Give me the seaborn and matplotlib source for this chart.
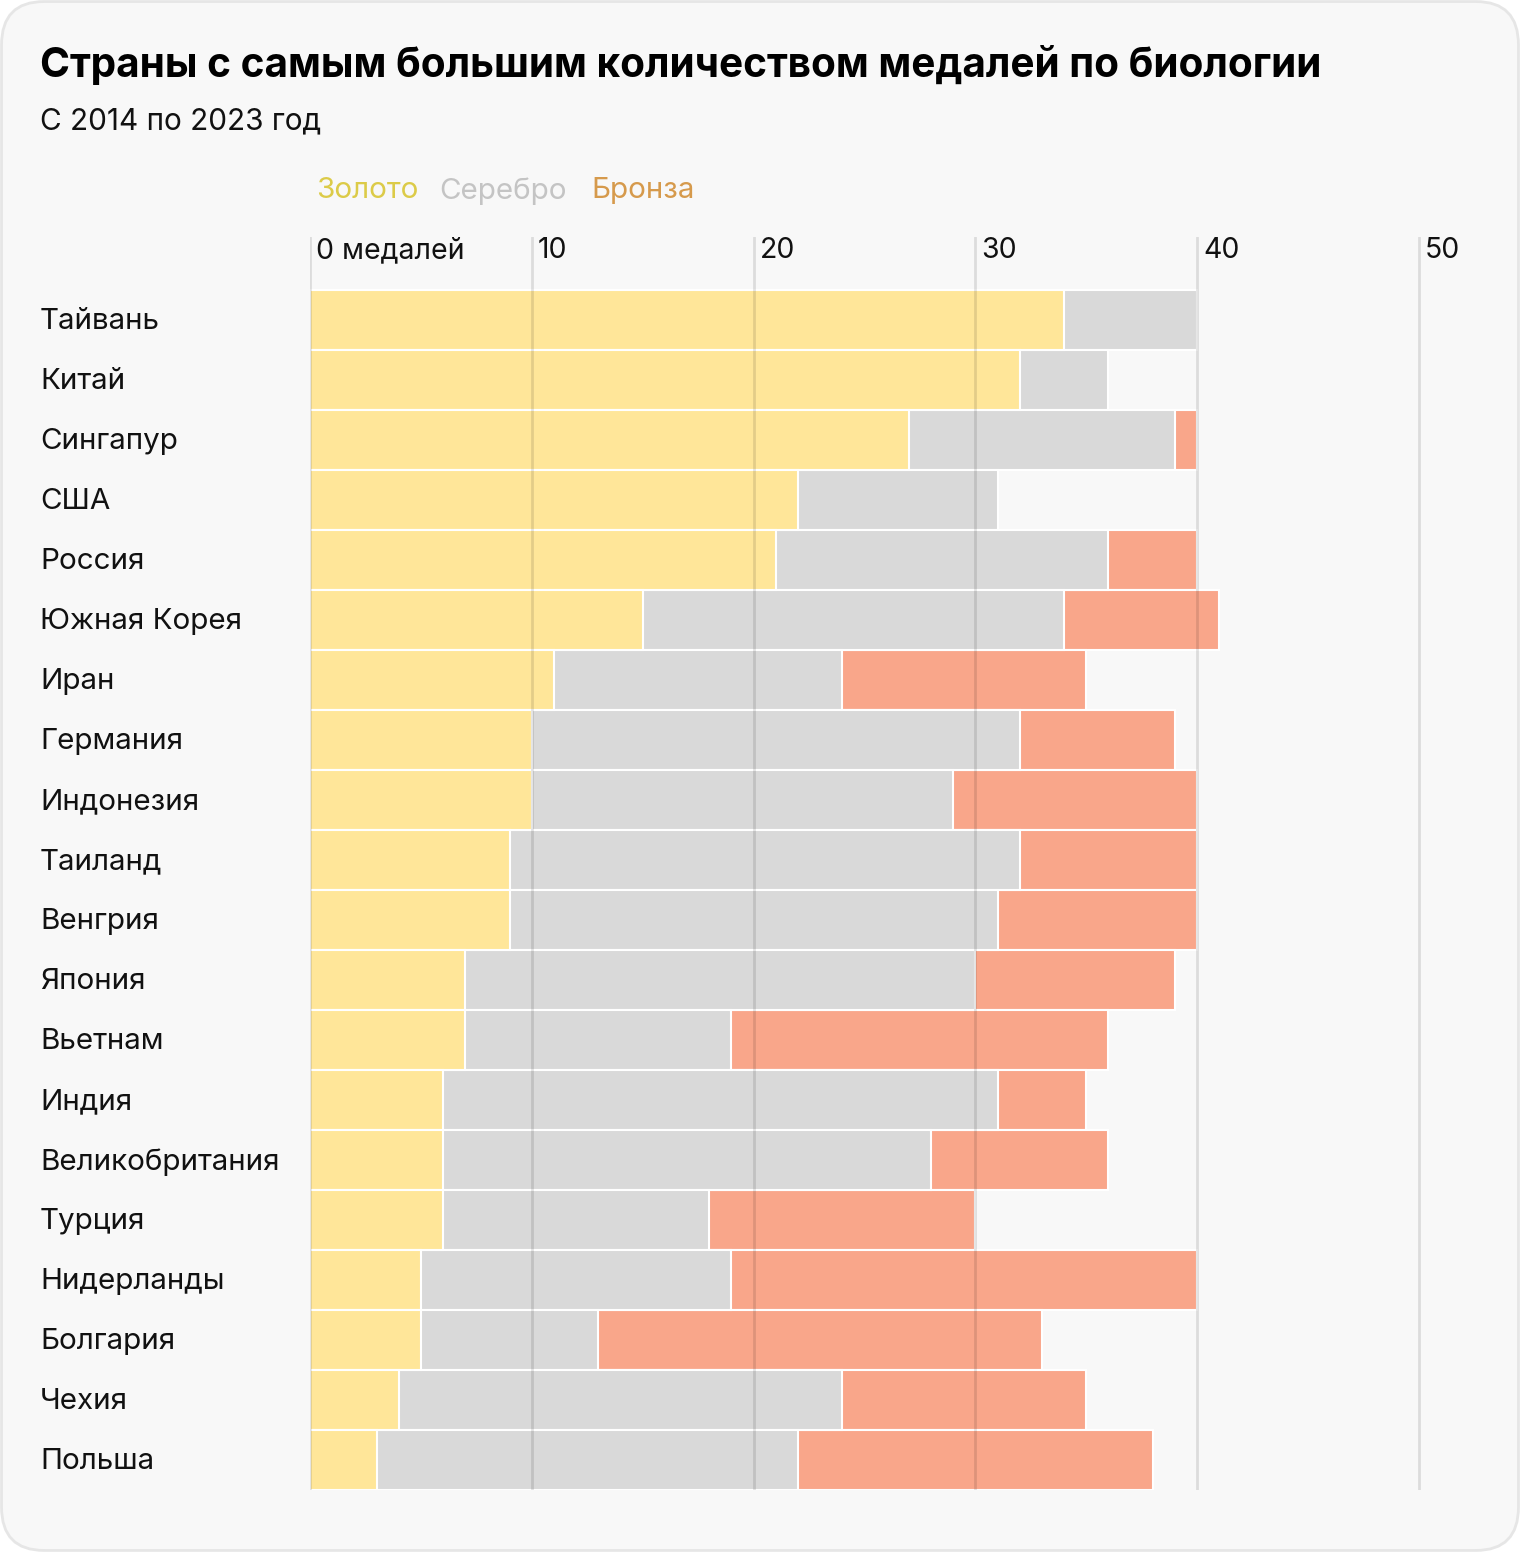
import matplotlib
matplotlib.use("Agg")
import matplotlib.pyplot as plt
import matplotlib.transforms as mtransforms
from matplotlib.patches import FancyBboxPatch
import seaborn as sns
import pandas as pd

countries = ["Тайвань", "Китай", "Сингапур", "США", "Россия", "Южная Корея", "Иран",
             "Германия", "Индонезия", "Таиланд", "Венгрия", "Япония", "Вьетнам", "Индия",
             "Великобритания", "Турция", "Нидерланды", "Болгария", "Чехия", "Польша"]
gold = [34, 32, 27, 22, 21, 15, 11, 10, 10, 9, 9, 7, 7, 6, 6, 6, 5, 5, 4, 3]
silver = [6, 4, 12, 9, 15, 19, 13, 22, 19, 23, 22, 23, 12, 25, 22, 12, 14, 8, 20, 19]
bronze = [0, 0, 1, 0, 4, 7, 11, 7, 11, 8, 9, 9, 17, 4, 8, 12, 21, 20, 11, 16]
ticks = [0, 10, 20, 30, 40, 50]
tick_labels = ["0 медалей", "10", "20", "30", "40", "50"]

GOLD, SILVER, BRONZE = "#ffe699", "#d9d9d9", "#f9a68a"

df = pd.DataFrame({"country": countries, "gold": gold, "silver": silver, "bronze": bronze})
df["gs"] = df["gold"] + df["silver"]
df["total"] = df["gs"] + df["bronze"]

sns.set_style("white")
plt.rcParams["font.family"] = ["Inter", "DejaVu Sans"]

fig = plt.figure(figsize=(15.2, 15.52), dpi=100, facecolor="white")
fig.patches.append(FancyBboxPatch((0.001, 0.001), 0.998, 0.998, boxstyle="round,pad=0,rounding_size=0.028",
                                  transform=fig.transFigure, facecolor="#f8f8f8", edgecolor="#e6e6e6",
                                  linewidth=2, zorder=-10))

W, H = 1520, 1552
ax = fig.add_axes([310 / W, 1 - 1490 / H, (52 * 22.18) / W, (1490 - 237) / H])
ax.set_facecolor("none")

# stacked bars: draw cumulative totals back to front
for col, color in [("total", BRONZE), ("gs", SILVER), ("gold", GOLD)]:
    sns.barplot(data=df, x=col, y="country", orient="h", color=color, width=1.0,
                edgecolor="white", linewidth=1.5, saturation=1, ax=ax)

ax.set_xlim(0, 52)
ax.set_ylim(19.5, -0.5 - 53 / 60)
for t in ticks:
    ax.axvline(t, color="black", alpha=0.11, lw=2, zorder=5)
for sp in ax.spines.values():
    sp.set_visible(False)
ax.set_xticks([])
ax.set_yticks([])
ax.set_xlabel("")
ax.set_ylabel("")

tr_top = mtransforms.blended_transform_factory(ax.transData, ax.transAxes)
for t, lab in zip(ticks, tick_labels):
    ax.text(t + 0.28, 1 - 14 / 1253, lab, transform=tr_top, ha="left", va="center",
            fontsize=20.5, color="#111111")

tr_lab = mtransforms.blended_transform_factory(fig.transFigure, ax.transData)
for i, c in enumerate(countries):
    ax.text(40 / W, i + 0.03, c, transform=tr_lab, ha="left", va="center", fontsize=21.3, color="#111111")

fig.text(40 / W, 1 - 65 / H, "Страны с самым большим количеством медалей по биологии",
         fontsize=29.2, fontweight="bold", ha="left", va="center", color="#000000")
fig.text(40 / W, 1 - 121 / H, "С 2014 по 2023 год", fontsize=21.4, ha="left", va="center",
         color="#111111")

for x, lab, col in [(316, "Золото", "#dccb48"), (439, "Серебро", "#c4c4c4"), (591, "Бронза", "#d69a4c")]:
    fig.text(x / W, 1 - 191 / H, lab, fontsize=21.3, color=col, ha="left", va="center")

fig.savefig("out.png", dpi=100, facecolor=fig.get_facecolor())
